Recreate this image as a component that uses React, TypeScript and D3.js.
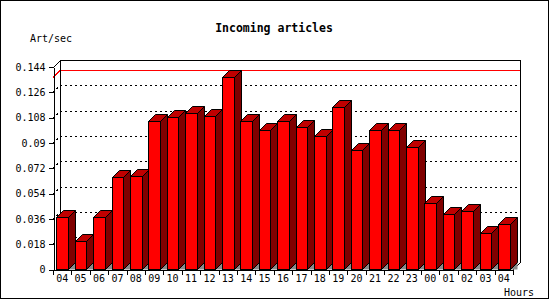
import React, { useEffect, useRef } from 'react';
import { select, scaleBand, scaleLinear, axisLeft, axisBottom, range, max } from 'd3';

const hours = ['04', '05', '06', '07', '08', '09', '10', '11', '12', '13', '14', '15', '16',
  '17', '18', '19', '20', '21', '22', '23', '00', '01', '02', '03', '04'];
const artPerSec = [0.0375, 0.0205, 0.0375, 0.0655, 0.0665, 0.1058, 0.1086, 0.111, 0.1093,
  0.1366, 0.1053, 0.0989, 0.1053, 0.1011, 0.0947, 0.1153, 0.0847, 0.0989, 0.0989, 0.0869,
  0.047, 0.0392, 0.0418, 0.0257, 0.0321];
const yTicks = [0, 0.018, 0.036, 0.054, 0.072, 0.09, 0.108, 0.126, 0.144];
const yTickLabels = ['0', '0.018', '0.036', '0.054', '0.072', '0.09', '0.108', '0.126', '0.144'];

const FONT = '"DejaVu Sans Mono", monospace';

const App: React.FC = () => {
  const svgRef = useRef<SVGSVGElement | null>(null);

  useEffect(() => {
    if (!svgRef.current) return;
    const svg = select(svgRef.current);
    svg.selectAll('*').remove();

    const width = 550;
    const height = 300;
    const depth = 7;
    const left = 53;
    const right = 513;
    const bottom = 269.5;
    const top = 67;

    const x = scaleBand<number>()
      .domain(range(hours.length))
      .range([left, right]);
    const y = scaleLinear().domain([0, 0.144]).range([bottom, top]);
    const barW = x.bandwidth() * 0.63;

    // background + outer frame
    svg.append('rect')
      .attr('x', 0.5).attr('y', 0.5)
      .attr('width', width - 2).attr('height', height - 2)
      .attr('fill', '#fff').attr('stroke', '#000');

    // titles
    svg.append('text')
      .attr('x', 274).attr('y', 32)
      .attr('text-anchor', 'middle')
      .attr('font-family', FONT).attr('font-size', 11.5).attr('font-weight', 'bold')
      .text('Incoming articles');
    svg.append('text')
      .attr('x', 30).attr('y', 42)
      .attr('font-family', FONT).attr('font-size', 10)
      .text('Art/sec');
    svg.append('text')
      .attr('x', 504).attr('y', 296)
      .attr('font-family', FONT).attr('font-size', 10)
      .text('Hours');

    const g = svg.append('g').attr('shape-rendering', 'crispEdges');

    // grid lines on the back wall
    yTicks.slice(1, -1).forEach((t) => {
      const yy = Math.round(y(t)) + 0.5;
      g.append('polyline')
        .attr('points', `${left},${yy} ${left + depth},${yy - depth} ${right + depth},${yy - depth}`)
        .attr('fill', 'none').attr('stroke', '#000')
        .attr('stroke-dasharray', '2,3');
    });

    // max line
    const ym = Math.round(y(max(artPerSec) || 0)) + 0.5;
    g.append('polyline')
      .attr('points', `${left},${ym} ${left + depth},${ym - depth} ${right + depth},${ym - depth}`)
      .attr('fill', 'none').attr('stroke', '#ff0000');

    // back wall frame
    g.append('polyline')
      .attr('points', `${left + 0.5},${top + 0.5} ${left + depth + 0.5},${top - depth + 0.5} ${right + depth + 0.5},${top - depth + 0.5} ${right + depth + 0.5},${bottom - depth} ${right},${bottom}`)
      .attr('fill', 'none').attr('stroke', '#000');
    g.append('line')
      .attr('x1', left + depth + 0.5).attr('x2', left + depth + 0.5)
      .attr('y1', top - depth).attr('y2', bottom - depth)
      .attr('stroke', '#000');

    // bars
    const bars = g.append('g').attr('shape-rendering', 'auto');
    artPerSec.forEach((v, i) => {
      const xc = (x(i) || 0) + x.bandwidth() / 2;
      const x0 = Math.round(xc - barW / 2) + 0.5;
      const x1 = Math.round(xc + barW / 2) + 0.5;
      const yt = Math.round(y(v)) + 0.5;
      const yb = bottom;
      bars.append('polygon')
        .attr('points', `${x1},${yb} ${x1 + depth},${yb - depth} ${x1 + depth},${yb}`)
        .attr('fill', '#8a8a8a');
      bars.append('polygon')
        .attr('points', `${x1},${yt} ${x1 + depth},${yt - depth} ${x1 + depth},${yb - depth} ${x1},${yb}`)
        .attr('fill', '#800000').attr('stroke', '#000');
      bars.append('polygon')
        .attr('points', `${x0},${yt} ${x0 + depth},${yt - depth} ${x1 + depth},${yt - depth} ${x1},${yt}`)
        .attr('fill', '#c00000').attr('stroke', '#000');
      bars.append('rect')
        .attr('x', x0).attr('y', yt)
        .attr('width', x1 - x0).attr('height', yb - yt)
        .attr('fill', '#ff0000').attr('stroke', '#000');
    });

    // y axis
    const yAxis = axisLeft(y)
      .tickValues(yTicks)
      .tickFormat((_d, i) => yTickLabels[i])
      .tickSize(5)
      .tickSizeOuter(0)
      .tickPadding(3);
    const ya = g.append('g')
      .attr('transform', `translate(${left + 0.5},0)`)
      .call(yAxis);
    ya.selectAll('text').attr('font-family', FONT).attr('font-size', 10);

    // x axis: labels at band centres, ticks at band edges
    const xAxis = axisBottom(x)
      .tickFormat((i) => hours[i])
      .tickSize(0)
      .tickSizeOuter(0)
      .tickPadding(5);
    const xa = g.append('g')
      .attr('transform', `translate(0,${bottom})`)
      .call(xAxis);
    xa.select('.domain').attr('d', `M${left},0.5H${right}`);
    xa.selectAll('text').attr('font-family', FONT).attr('font-size', 10).attr('dy', '0.75em');
    range(hours.length + 1).forEach((i) => {
      const xx = Math.round(left + i * x.step()) + 0.5;
      xa.append('line')
        .attr('x1', xx).attr('x2', xx)
        .attr('y1', 0).attr('y2', 5)
        .attr('stroke', '#000');
    });

    ya.raise();
  }, []);

  return (
    <svg
      ref={svgRef}
      width={550}
      height={300}
      style={{ position: 'absolute', left: 0, top: 0 }}
    />
  );
};

export default App;
